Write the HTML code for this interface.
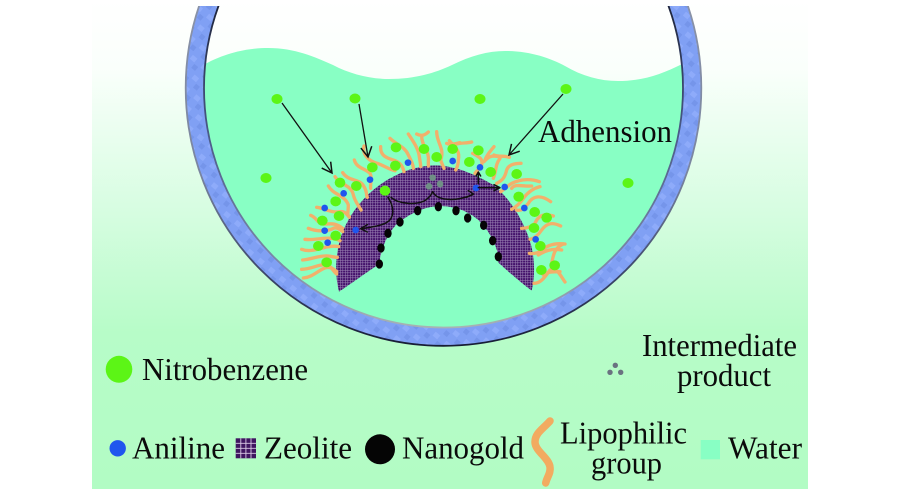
<!DOCTYPE html>
<html><head><meta charset="utf-8"><style>
html,body{margin:0;padding:0;background:#fff;width:900px;height:497px;overflow:hidden}
svg{display:block}
text{font-family:"Liberation Serif",serif;font-size:32px;fill:#0b0b0b}
</style></head><body>
<svg width="900" height="497" viewBox="0 0 900 497" xmlns="http://www.w3.org/2000/svg">
<defs>
<linearGradient id="bg" x1="0" y1="0" x2="0" y2="1">
<stop offset="0" stop-color="#ffffff"/><stop offset="0.14" stop-color="#fafffb"/><stop offset="0.42" stop-color="#d8fde2"/><stop offset="0.68" stop-color="#b7fcc8"/><stop offset="1" stop-color="#b2fcc4"/>
</linearGradient>
<linearGradient id="edgeO" gradientUnits="userSpaceOnUse" x1="0" y1="0" x2="0" y2="347">
<stop offset="0" stop-color="#8a93a8"/><stop offset=".5" stop-color="#7a85a0"/><stop offset=".8" stop-color="#3a4468"/><stop offset="1" stop-color="#161c34"/>
</linearGradient>
<linearGradient id="edgeI" gradientUnits="userSpaceOnUse" x1="0" y1="0" x2="0" y2="330">
<stop offset="0" stop-color="#1c2238"/><stop offset=".4" stop-color="#4a5a88"/><stop offset=".8" stop-color="#7c8aa8"/><stop offset="1" stop-color="#a9b4b4"/>
</linearGradient>
<pattern id="mesh" width="7.500" height="7.500" patternUnits="userSpaceOnUse">
<rect width="7.500" height="7.500" fill="#43116a"/>
<path d="M0 1H7.500M1 0V7.500" stroke="#a08ab8" stroke-width="1.500"/>
</pattern>
<pattern id="ringtex" width="14" height="14" patternUnits="userSpaceOnUse" patternTransform="rotate(40)">
<rect width="14" height="14" fill="#80a0f4"/>
<rect x="1" y="2" width="6" height="5" fill="#8eabfa"/>
<rect x="8" y="8" width="5" height="5" fill="#7595ea"/>
</pattern>
<clipPath id="top"><rect x="0" y="6" width="900" height="491"/></clipPath>
<clipPath id="inner"><circle cx="443.5" cy="88" r="239"/></clipPath>
<marker id="ah" markerWidth="14" markerHeight="14" refX="11" refY="6" orient="auto" markerUnits="userSpaceOnUse"><path d="M1 0.5L11 6L1 11.5" fill="none" stroke="#111" stroke-width="1.500"/></marker>
</defs>

<rect x="92" y="0" width="716" height="489" fill="url(#bg)"/>

<path clip-path="url(#inner)" d="M200 67C225 52 250 48 268 48C295 48 315 57 333 65C350 74 370 79 389 79C415 79 435 73 452 65C470 56 488 51 505 51C530 51 550 58 565 66C582 76 600 81 618 81C645 81 665 73 690 60L690 340L200 340Z" fill="#88ffc4"/>

<g clip-path="url(#top)" fill="none">
<circle cx="443.5" cy="88" r="248.700" stroke="url(#ringtex)" stroke-width="18.500"/>
<circle cx="443.5" cy="88" r="257.800" stroke="url(#edgeO)" stroke-width="1.800"/>
<circle cx="443.5" cy="88" r="239.500" stroke="url(#edgeI)" stroke-width="1.800"/>
</g>

<g transform="translate(290 120) scale(.33333)">
<path d="M147 515C130 450 140 370 165 320C195 255 250 200 310 170C350 148 395 136 440 136C500 138 560 165 610 195C660 235 700 300 722 370C735 420 735 470 725 512C690 485 655 455 625 428C628 415 626 405 622 395C612 360 595 330 565 300C530 270 490 258 445 258C400 260 355 285 325 308C295 335 272 385 268 432C225 460 185 490 147 515Z" fill="url(#mesh)"/>
<g fill="none" stroke="#f2b06b" stroke-width="10" stroke-linecap="round" stroke-linejoin="round">
<path d="M135 170C150 195 185 195 190 225C195 245 205 255 213 270"/>
<path d="M115 198C130 225 165 225 175 255C175 275 170 285 178 290"/>
<path d="M158 158C175 185 210 175 222 200C232 215 228 225 232 232"/>
<path d="M80 262C105 265 125 280 150 275C165 272 172 285 178 292"/>
<path d="M62 286C85 295 80 315 110 312C130 310 140 312 158 325"/>
<path d="M55 325C80 335 110 335 130 325C140 320 150 328 158 335"/>
<path d="M45 358C70 362 100 352 125 355C135 357 145 358 150 362"/>
<path d="M35 388C60 398 90 385 115 380C130 378 138 378 146 380"/>
<path d="M38 420C65 418 90 405 115 408C128 410 135 412 142 412"/>
<path d="M35 448C65 448 90 430 110 435C125 438 130 455 140 462"/>
<path d="M40 474C70 472 90 445 112 442C125 442 132 448 140 455"/>
<path d="M193 120C200 145 225 145 240 160C248 175 240 190 242 205"/>
<path d="M222 78C215 105 240 125 262 130C285 138 300 150 315 152"/>
<path d="M272 80C270 110 295 115 315 122C335 130 340 145 342 155"/>
<path d="M300 55C320 75 345 80 355 105C365 125 370 135 370 145"/>
<path d="M355 42C370 65 385 85 388 110C390 125 392 130 392 140"/>
<path d="M380 42C395 50 405 45 415 36M395 48C395 80 420 95 415 125C415 130 415 135 415 138"/>
<path d="M440 35C440 70 465 85 452 120C455 130 460 140 462 145"/>
<path d="M478 62C500 85 510 95 505 120C505 135 500 145 497 150"/>
<path d="M500 72C515 68 530 70 545 66M470 70C480 75 495 72 510 68"/>
<path d="M548 100C565 110 580 115 575 135C570 150 560 150 555 160"/>
<path d="M612 80C600 95 590 105 585 120M625 110C605 105 595 110 582 125"/>
<path d="M612 105C630 112 640 105 658 112M630 115C615 135 620 150 610 175"/>
<path d="M693 130C670 130 655 135 650 150C645 170 640 180 620 190"/>
<path d="M748 185C720 175 690 178 665 190C650 200 640 210 632 215"/>
<path d="M725 198C700 200 675 190 665 205"/>
<path d="M750 200C730 205 715 215 700 235C690 250 680 260 665 268"/>
<path d="M782 245C755 225 730 225 715 250C705 262 695 275 680 270"/>
<path d="M790 288C765 280 745 285 735 310C725 320 710 325 695 325"/>
<path d="M812 318C785 305 770 310 755 330C745 345 735 355 720 358"/>
<path d="M825 372C795 368 770 375 750 395C740 400 725 402 718 400"/>
<path d="M815 390C785 385 765 392 745 405"/>
<path d="M820 372C790 385 790 410 785 430"/>
<path d="M825 486C810 465 800 440 780 450C760 478 750 490 732 490"/>
<path d="M810 455C790 455 770 455 760 465"/>
</g>
<g fill="#5cf516">
<ellipse cx="150" cy="188" rx="16" ry="15"/><ellipse cx="199" cy="198" rx="16" ry="15"/><ellipse cx="247" cy="142" rx="16" ry="15"/><ellipse cx="316" cy="137" rx="16" ry="15"/><ellipse cx="318" cy="82" rx="16" ry="15"/><ellipse cx="402" cy="87" rx="16" ry="15"/><ellipse cx="440" cy="111" rx="16" ry="15"/><ellipse cx="488" cy="87" rx="16" ry="15"/><ellipse cx="538" cy="126" rx="16" ry="15"/><ellipse cx="565" cy="91" rx="16" ry="15"/><ellipse cx="602" cy="156" rx="16" ry="15"/><ellipse cx="680" cy="162" rx="16" ry="15"/><ellipse cx="686" cy="230" rx="16" ry="15"/><ellipse cx="734" cy="276" rx="16" ry="15"/><ellipse cx="770" cy="293" rx="16" ry="15"/><ellipse cx="732" cy="324" rx="16" ry="15"/><ellipse cx="751" cy="378" rx="16" ry="15"/><ellipse cx="754" cy="450" rx="16" ry="15"/><ellipse cx="794" cy="436" rx="16" ry="15"/><ellipse cx="137" cy="244" rx="16" ry="15"/><ellipse cx="147" cy="288" rx="16" ry="15"/><ellipse cx="97" cy="302" rx="16" ry="15"/><ellipse cx="137" cy="347" rx="16" ry="15"/><ellipse cx="85" cy="378" rx="16" ry="15"/><ellipse cx="110" cy="427" rx="16" ry="15"/><ellipse cx="285" cy="212" rx="16" ry="15"/>
</g>
<g fill="#1f56ee">
<circle cx="161" cy="220" r="10"/><circle cx="240" cy="179" r="10"/><circle cx="354" cy="128" r="10"/><circle cx="488" cy="123" r="10"/><circle cx="570" cy="142" r="10"/><circle cx="558" cy="204" r="10"/><circle cx="644" cy="201" r="10"/><circle cx="703" cy="264" r="10"/><circle cx="737" cy="358" r="10"/><circle cx="104" cy="264" r="10"/><circle cx="104" cy="332" r="10"/><circle cx="113" cy="368" r="10"/><circle cx="197" cy="330" r="10"/>
</g>
<g fill="#050505">
<ellipse cx="383" cy="272" rx="11" ry="14"/><ellipse cx="445" cy="260" rx="11" ry="14"/><ellipse cx="498" cy="272" rx="11" ry="14"/><ellipse cx="533" cy="294" rx="11" ry="14"/><ellipse cx="581" cy="316" rx="11" ry="14"/><ellipse cx="608" cy="362" rx="11" ry="14"/><ellipse cx="625" cy="410" rx="11" ry="14"/><ellipse cx="330" cy="306" rx="11" ry="14"/><ellipse cx="294" cy="340" rx="11" ry="14"/><ellipse cx="273" cy="384" rx="11" ry="14"/><ellipse cx="268" cy="432" rx="11" ry="14"/>
</g>
<g fill="#6f8f85"><circle cx="428" cy="173" r="10"/><circle cx="450" cy="192" r="10"/><circle cx="417" cy="199" r="10"/></g>
<g fill="none" stroke="#111" stroke-width="4.500" stroke-linecap="round" stroke-linejoin="round">
<path d="M303 232C325 252 385 258 410 238C420 230 425 222 428 215C440 240 490 248 548 224"/>
<path d="M530 232L550 222L535 212"/>
<path d="M294 232C315 265 315 300 280 312C260 320 240 322 214 326"/>
<path d="M232 314L212 326L232 336"/>
<path d="M565 203L628 203M612 194L630 203L612 212"/>
<path d="M565 190L565 158M558 168L565 156L572 168"/>
</g>
</g>

<g fill="#5cf516">
<ellipse cx="277" cy="99" rx="5.500" ry="5"/><ellipse cx="355" cy="98.500" rx="5.500" ry="5"/><ellipse cx="480" cy="99" rx="5.500" ry="5"/><ellipse cx="566" cy="89" rx="5.500" ry="5"/><ellipse cx="266" cy="178" rx="5.500" ry="5"/><ellipse cx="628" cy="183" rx="5.500" ry="5"/>
</g>
<g stroke="#111" stroke-width="1.300" fill="none">
<path d="M282 103L332 173" marker-end="url(#ah)"/>
<path d="M359 104L368 157" marker-end="url(#ah)"/>
<path d="M563 94L509 155" marker-end="url(#ah)"/>
</g>

<text x="538" y="142" textLength="134" lengthAdjust="spacingAndGlyphs">Adhension</text>
<ellipse cx="119" cy="369.300" rx="13.300" ry="13.500" fill="#5cf516"/>
<text x="142" y="380" textLength="166" lengthAdjust="spacingAndGlyphs">Nitrobenzene</text>
<g fill="#6a7280"><circle cx="615.300" cy="365.300" r="2.700"/><circle cx="610" cy="372.300" r="2.700"/><circle cx="620.700" cy="372.300" r="2.700"/></g>
<text x="642" y="356" textLength="155" lengthAdjust="spacingAndGlyphs">Intermediate</text>
<text x="677" y="386" textLength="94" lengthAdjust="spacingAndGlyphs">product</text>
<circle cx="117.700" cy="448.300" r="8.200" fill="#1f56ee"/>
<text x="132" y="458.300" textLength="93" lengthAdjust="spacingAndGlyphs">Aniline</text>
<rect x="235.700" y="438.300" width="20.300" height="20" fill="#3f1560"/>
<path d="M240.800 438.300V458.300M245.900 438.300V458.300M251 438.300V458.300M235.700 443.300H256M235.700 448.300H256M235.700 453.300H256" stroke="#d8c8e4" stroke-width=".9"/>
<text x="264" y="458.300" textLength="88" lengthAdjust="spacingAndGlyphs">Zeolite</text>
<ellipse cx="380" cy="449.300" rx="15" ry="15" fill="#050505"/>
<text x="402" y="458.300" textLength="122" lengthAdjust="spacingAndGlyphs">Nanogold</text>
<path d="M550 421C543 429 535 433 535 442C535 451 549 458 550 467C551 473 547 477 545.700 483" fill="none" stroke="#f2ab60" stroke-width="7.500" stroke-linecap="round"/>
<text x="560" y="443.300" textLength="127" lengthAdjust="spacingAndGlyphs">Lipophilic</text>
<text x="591" y="473.300" textLength="71" lengthAdjust="spacingAndGlyphs">group</text>
<rect x="700.700" y="440" width="19.300" height="19.300" fill="#88ffc4"/>
<text x="728" y="458.300" textLength="74" lengthAdjust="spacingAndGlyphs">Water</text>
</svg>
</body></html>
